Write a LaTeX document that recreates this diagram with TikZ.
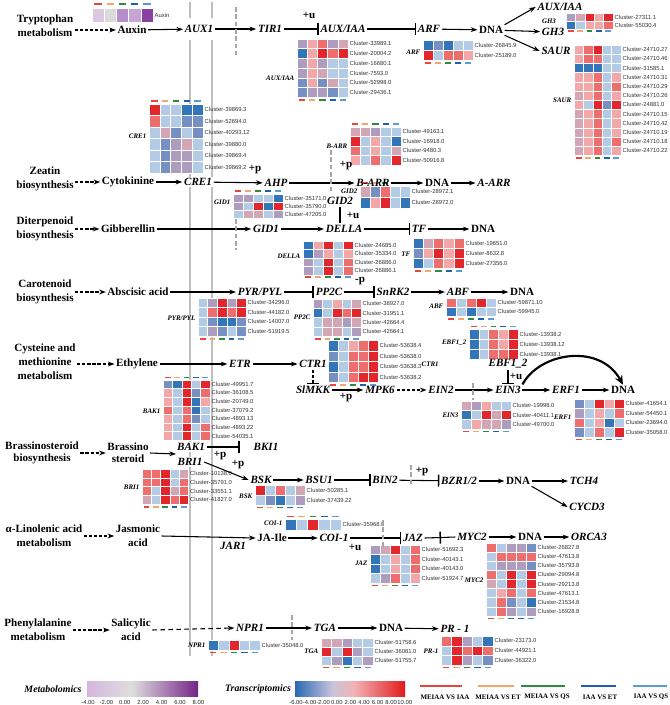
\documentclass[tikz,border=0pt]{standalone}
\usepackage{fontspec}
\setmainfont{Liberation Serif}
\setsansfont{Liberation Sans}
\usetikzlibrary{arrows.meta}
\definecolor{hR}{HTML}{E3262B}
\definecolor{hr}{HTML}{EE6E6E}
\definecolor{hp}{HTML}{F2A8A8}
\definecolor{hg}{HTML}{D3A6B6}
\definecolor{hm}{HTML}{AE9DBF}
\definecolor{hb}{HTML}{B4CBE6}
\definecolor{hs}{HTML}{7690C3}
\definecolor{hB}{HTML}{3375B9}
\definecolor{pA}{HTML}{DCC7E3}
\definecolor{pG}{HTML}{DADADA}
\definecolor{pM}{HTML}{B68EC9}
\definecolor{pL}{HTML}{C6A5D4}
\definecolor{pD}{HTML}{8B3FA3}
\definecolor{mkR}{HTML}{E8453C}
\definecolor{mkO}{HTML}{F6A66A}
\definecolor{mkG}{HTML}{2E8B3E}
\definecolor{mkB}{HTML}{1F5FB0}
\definecolor{mkL}{HTML}{5B9BD5}
\definecolor{mtL}{HTML}{D5B5DE}
\definecolor{mtM}{HTML}{DEDEDE}
\definecolor{mtR}{HTML}{742487}
\definecolor{tcL}{HTML}{2A69B4}
\definecolor{tcA}{HTML}{C9C4DC}
\definecolor{tcM}{HTML}{F2B1B4}
\definecolor{tcR}{HTML}{E31A1C}
\pgfdeclarehorizontalshading{mtsh}{100bp}{color(0bp)=(mtL); color(25bp)=(mtL); color(45bp)=(mtM); color(75bp)=(mtR); color(100bp)=(mtR)}
\pgfdeclarehorizontalshading{tcsh}{100bp}{color(0bp)=(tcL); color(25bp)=(tcL); color(42bp)=(tcA); color(52bp)=(tcM); color(75bp)=(tcR); color(100bp)=(tcR)}
\tikzset{
  lab/.style={font=\bfseries\fontsize{8.3}{10.5}\selectfont, align=center, inner sep=1pt},
  gn/.style={font=\bfseries\itshape\fontsize{8.3}{9.5}\selectfont, inner sep=1.2pt},
  sm/.style={font=\bfseries\itshape\fontsize{5.2}{6}\selectfont, inner sep=0.3pt},
  cl/.style={font=\sffamily\fontsize{4.4}{5}\selectfont, text=black!80, inner sep=0.2pt, anchor=west},
  tk/.style={font=\sffamily\fontsize{4.4}{5}\selectfont, text=black!85, inner sep=0pt},
  lg/.style={font=\bfseries\fontsize{5.2}{6}\selectfont, inner sep=0pt},
  pl/.style={font=\bfseries\fontsize{8.3}{9}\selectfont, inner sep=0.5pt},
  ar/.style={line width=0.8pt, -{Stealth[length=5pt,width=3.6pt]}},
  da/.style={ar, dash pattern=on 2.4pt off 1.4pt},
  inh/.style={line width=0.8pt, -{Bar[width=9pt,line width=1.1pt]}},
  plainln/.style={line width=0.8pt},
  gd/.style={gray!70, line width=1.4pt, dash pattern=on 3.5pt off 2pt},
  gl/.style={black!25, line width=1.8pt}
}
\newcommand{\hmap}[7]{%
  \foreach \rr [count=\ii from 0] in {#6} {%
    \foreach \cc [count=\jj from 0] in \rr {%
      \path[fill=\cc, draw=white, line width=0.3pt] ({#2+\jj*#4},{#3+\ii*#5}) rectangle ++(#4,#5);
    }%
  }%
  \foreach \ll [count=\ii from 0] in {#7} {%
    \node[cl] (#1-\ii) at ({#2+5*#4+1.2},{#3+(\ii+0.5)*#5}) {\ll};
  }%
}
\newcommand{\hmarks}[3]{%
  \foreach \cc [count=\jj from 0] in {mkR,mkO,mkG,mkB,mkL} {%
    \path[fill=\cc] ({#1+(\jj+0.2)*#3},{#2}) rectangle ++({0.6*#3},1.8);
  }%
}
\begin{document}
\begin{tikzpicture}[x=0.75pt,y=-0.75pt]
\useasboundingbox (0,0) rectangle (669,705);
% gray vertical guide lines
\draw[gl] (190,2) -- (190,656);
\draw[gl] (212,2) -- (212,656);

% ---------- heatmaps ----------
\hmap{hAux}{92}{8}{12.2}{14}{{pA,pG,pM,pL,pD}}{Auxin}
\hmarks{92}{3.5}{12.2}
\hmap{hCre}{149}{104}{10.8}{11.5}{{hR,hb,hb,hB,hB},{hr,hb,hb,hs,hs},{hb,hg,hs,hb,hs},{hb,hs,hm,hg,hb},{hb,hs,hm,hm,hb},{hb,hs,hm,hm,hb}}{Cluster-39869.3,Cluster-52694.0,Cluster-40293.12,Cluster-39880.0,Cluster-39869.4,Cluster-39869.2}
\hmarks{149}{100.5}{10.8}
\hmap{hAux2}{297}{39}{10.2}{9.7}{{hm,hp,hr,hm,hg},{hB,hp,hR,hr,hR},{hm,hp,hm,hb,hb},{hm,hp,hg,hb,hb},{hs,hp,hs,hg,hb},{hs,hm,hm,hs,hb}}{Cluster-33989.1,Cluster-20004.2,Cluster-16680.1,Cluster-7593.0,Cluster-52998.0,Cluster-29436.1}
\hmarks{297}{99.5}{10.2}
\hmap{hArf}{423}{40}{10}{10.3}{{hB,hs,hB,hb,hb},{hR,hb,hr,hr,hp}}{Cluster-26845.9,Cluster-25189.0}
\hmarks{423}{62.5}{10}
\hmap{hGh}{566}{13}{9.4}{8}{{hm,hg,hR,hp,hR},{hB,hb,hp,hp,hr}}{Cluster-27311.1,Cluster-55030.4}
\hmarks{566}{30.5}{9.4}
\hmap{hSaur}{574}{45}{9.4}{9.2}{{hp,hr,hR,hb,hb},{hp,hr,hr,hb,hb},{hB,hB,hB,hb,hb},{hp,hp,hr,hb,hp},{hp,hp,hr,hb,hr},{hg,hp,hr,hb,hp},{hp,hb,hR,hs,hR},{hg,hp,hr,hb,hp},{hg,hp,hr,hb,hp},{hg,hp,hr,hb,hp},{hg,hp,hr,hb,hr},{hg,hp,hr,hb,hp}}{Cluster-24710.27,Cluster-24710.46,Cluster-31585.1,Cluster-24710.31,Cluster-24710.29,Cluster-24710.26,Cluster-24881.0,Cluster-24710.15,Cluster-24710.42,Cluster-24710.19,Cluster-24710.18,Cluster-24710.22}
\hmarks{574}{157}{9.4}
\hmap{hBarr}{350}{127}{10.2}{9.5}{{hg,hg,hm,hb,hb},{hR,hb,hp,hb,hB},{hr,hb,hp,hb,hg},{hp,hb,hr,hb,hR}}{Cluster-49163.1,Cluster-16918.0,Cluster-9480.3,Cluster-50916.8}
\hmarks{350}{123.5}{10.2}
\hmap{hGid1}{233}{194}{10}{8}{{hm,hm,hb,hb,hB},{hm,hb,hR,hB,hR},{hb,hg,hg,hb,hm}}{Cluster-35171.0,Cluster-35790.0,Cluster-47205.0}
\hmarks{233}{190.5}{10}
\hmap{hGid2}{360}{186}{10}{11}{{hg,hs,hr,hb,hb},{hB,hp,hR,hb,hB}}{Cluster-28972.1,Cluster-28972.0}
\hmarks{360}{182.5}{10}
\hmap{hDella}{303}{241}{10}{8.5}{{hB,hp,hR,hb,hR},{hB,hm,hp,hb,hp},{hm,hb,hR,hb,hr},{hm,hb,hR,hb,hr}}{Cluster-24685.0,Cluster-35334.0,Cluster-26886.0,Cluster-26886.1}
\hmarks{303}{276}{10}
\hmap{hTf}{413}{238}{10.2}{10}{{hB,hg,hr,hp,hr},{hs,hp,hR,hp,hR},{hB,hb,hr,hp,hR}}{Cluster-19651.0,Cluster-8632.8,Cluster-27356.0}
\hmarks{413}{270}{10.2}
\hmap{hPyr}{198}{298}{9.6}{9.5}{{hb,hm,hR,hm,hR},{hb,hr,hR,hr,hR},{hb,hs,hB,hB,hs},{hb,hm,hs,hb,hs}}{Cluster-34296.0,Cluster-44182.0,Cluster-14007.0,Cluster-51919.5}
\hmarks{198}{338}{9.6}
\hmap{hPp}{313}{299}{9.6}{9.3}{{hm,hb,hp,hb,hg},{hB,hb,hR,hr,hR},{hb,hg,hg,hm,hg},{hb,hg,hg,hb,hm}}{Cluster-38927.0,Cluster-31951.1,Cluster-42664.4,Cluster-42664.1}
\hmarks{313}{338}{9.6}
\hmap{hAbf}{446}{298}{10}{9}{{hr,hb,hr,hR,hb},{hB,hb,hB,hb,hb}}{Cluster-59871.10,Cluster-59945.0}
\hmarks{446}{318}{10}
\hmap{hEbf}{469}{329}{9.8}{10}{{hB,hb,hr,hp,hR},{hB,hb,hr,hp,hR},{hB,hb,hr,hr,hR}}{Cluster-13938.2,Cluster-13938.12,Cluster-13938.1}
\hmarks{469}{325.5}{9.8}
\hmap{hCtr}{328}{340.5}{10}{10.5}{{hB,hb,hp,hr,hR},{hs,hb,hr,hr,hR},{hB,hb,hr,hr,hR},{hs,hb,hr,hR,hR}}{Cluster-53638.4,Cluster-53638.0,Cluster-53638.3,Cluster-53638.2}
\hmarks{328}{384}{10}
\hmap{hBak}{163}{380}{9.4}{8.6}{{hs,hB,hR,hb,hR},{hp,hb,hR,hs,hr},{hp,hb,hR,hB,hp},{hr,hb,hr,hB,hb},{hp,hb,hr,hs,hb},{hp,hb,hR,hb,hr},{hp,hb,hR,hb,hr}}{Cluster-49951.7,Cluster-36108.5,Cluster-20749.0,Cluster-37079.2,Cluster-4893.13,Cluster-4893.22,Cluster-54035.1}
\hmarks{163}{376.5}{9.4}
\hmap{hEin}{461}{401}{10}{9.3}{{hg,hm,hp,hb,hb},{hB,hb,hR,hg,hR},{hb,hp,hg,hg,hm}}{Cluster-19998.0,Cluster-40411.1,Cluster-49700.0}
\hmarks{461}{430.5}{10}
\hmap{hErf}{574}{399}{10}{9.5}{{hs,hb,hR,hp,hR},{hm,hb,hp,hb,hr},{hr,hb,hp,hB,hb},{hs,hb,hr,hb,hR}}{Cluster-41654.1,Cluster-54450.1,Cluster-23694.0,Cluster-35058.0}
\hmarks{574}{438.5}{10}
\hmap{hBri}{142}{469}{9.3}{8.8}{{hr,hr,hR,hb,hg},{hr,hr,hR,hb,hr},{hr,hb,hR,hg,hr},{hg,hb,hR,hr,hR}}{Cluster-10138.0,Cluster-35791.0,Cluster-33551.1,Cluster-41827.0}
\hmarks{142}{506}{9.3}
\hmap{hBsk}{255}{485}{10}{10}{{hR,hb,hr,hb,hg},{hb,hs,hB,hb,hm}}{Cluster-50285.1,Cluster-37439.22}
\hmarks{255}{506.5}{10}
\hmap{hCoi}{285}{519}{11.2}{11}{{hB,hb,hR,hb,hb}}{Cluster-35968.0}
\hmarks{285}{515.5}{11.2}
\hmap{hJaz}{370}{545}{10}{9.5}{{hm,hg,hR,hb,hr},{hB,hb,hp,hb,hr},{hB,hb,hp,hb,hr},{hb,hm,hr,hb,hp}}{Cluster-51692.3,Cluster-40143.1,Cluster-40143.0,Cluster-51924.7}
\hmarks{370}{584.5}{10}
\hmap{hMyc}{486}{543}{10}{9.1}{{hr,hb,hm,hm,hs},{hb,hr,hr,hr,hr},{hb,hm,hm,hm,hs},{hr,hb,hR,hb,hR},{hg,hb,hR,hb,hR},{hb,hp,hr,hb,hr},{hb,hr,hs,hb,hB},{hb,hr,hm,hb,hm}}{Cluster-26827.8,Cluster-47613.8,Cluster-35793.8,Cluster-29094.8,Cluster-29213.8,Cluster-47613.1,Cluster-21534.8,Cluster-16928.8}
\hmarks{486}{617.5}{10}
\hmap{hNpr}{208}{640}{10.4}{10}{{hB,hb,hR,hb,hb}}{Cluster-35048.0}
\hmarks{208}{651.5}{10.4}
\hmap{hTga}{321}{638}{10.4}{9}{{hg,hg,hm,hb,hb},{hR,hb,hR,hm,hb},{hb,hm,hB,hb,hm}}{Cluster-51758.6,Cluster-36081.0,Cluster-51755.7}
\hmarks{321}{666.5}{10.4}
\hmap{hPr}{441}{636}{10.4}{9.7}{{hr,hR,hm,hb,hB},{hb,hR,hr,hR,hr},{hb,hR,hm,hb,hs}}{Cluster-23173.0,Cluster-44921.1,Cluster-36322.0}
\hmarks{441}{666.5}{10.4}

% small heatmap labels
\node[sm, anchor=east] (sCre) at (147,136) {CRE1};
\node[sm, anchor=east] (sAux) at (295,78) {AUX/IAA};
\node[sm, anchor=east] (sArf) at (421,52) {ARF};
\node[sm] (sGh) at (549,21) {GH3};
\node[sm, anchor=east] (sSaur) at (572,100) {SAUR};
\node[sm, anchor=east] (sBarr) at (348,146) {B-ARR};
\node[sm, anchor=east] (sGid1) at (231,202) {GID1};
\node[sm, anchor=east] (sGid2) at (358,191) {GID2};
\node[sm, anchor=east] (sDella) at (301,256) {DELLA};
\node[sm, anchor=east] (sTf) at (411,254) {TF};
\node[sm, anchor=east] (sPyr) at (196,318) {PYR/PYL};
\node[sm, anchor=east] (sPp) at (311,317) {PP2C};
\node[sm, anchor=east] (sAbf) at (444,306) {ABF};
\node[sm, anchor=east] (sEbf) at (467,343) {EBF1\_2};
\node[sm, anchor=west] (sCtr) at (421,364) {CTR1};
\node[sm, anchor=east] (sBak) at (161,411) {BAK1};
\node[sm, anchor=east] (sEin) at (459,415) {EIN3};
\node[sm, anchor=east] (sErf) at (572,417) {ERF1};
\node[sm, anchor=east] (sBri) at (140,487) {BRI1};
\node[sm, anchor=east] (sBsk) at (253,496) {BSK};
\node[sm, anchor=east] (sCoi) at (283,523) {COI-1};
\node[sm, anchor=east] (sJaz) at (368,563) {JAZ};
\node[sm, anchor=east] (sMyc) at (484,580) {MYC2};
\node[sm, anchor=east] (sNpr) at (206,645) {NPR1};
\node[sm, anchor=east] (sTga) at (319,651) {TGA};
\node[sm, anchor=east] (sPr) at (439,651) {PR-1};

% ---------- Row 1 : Tryptophan ----------
\node[lab] (trp) at (45,26) {Tryptophan\\metabolism};
\node[lab] (auxin) at (132,30) {Auxin};
\node[gn, fill=white, minimum height=16pt] (aux1) at (199,29) {AUX1};
\node[gn] (tir1) at (270,29) {TIR1};
\node[gn] (auxiaa) at (343,29) {AUX/IAA};
\node[gn] (arf) at (429,29) {ARF};
\node[lab] (dna1) at (491,30) {DNA};
\node[gn] (auxiaa2) at (560,7) {AUX/IAA};
\node[gn] (gh3) at (553,32) {GH3};
\node[gn] (saur) at (556,51) {SAUR};
\draw[da] (trp.east |- auxin.west) -- (auxin.west);
\draw[ar] (auxin) -- (aux1);
\draw[ar] (aux1) -- (tir1);
\draw[inh] (tir1) -- (auxiaa);
\node[pl] (u1) at (309,15) {+u};
\draw[inh] (auxiaa) -- (arf);
\draw[ar] (arf) -- (dna1);
\draw[ar] (dna1.north east) -- (auxiaa2.west);
\draw[ar] (dna1) -- (gh3);
\draw[ar] (dna1.south east) -- (saur.west);

% ---------- Row 2 : Zeatin ----------
\node[lab] (zea) at (45,179) {Zeatin\\biosynthesis};
\node[lab] (cyto) at (128,182) {Cytokinine};
\node[gn, fill=white] (cre1) at (198,182) {CRE1};
\node[gn] (ahp) at (276,183) {AHP};
\node[gn] (barr) at (373,183) {B-ARR};
\node[lab] (dna2) at (437,183) {DNA};
\node[gn] (aarr) at (494,183) {A-ARR};
\draw[da] (zea.east |- cyto.west) -- (cyto.west);
\draw[ar] (cyto) -- (cre1);
\draw[ar] (cre1) -- (ahp);
\node[pl] (p1) at (255,170) {+p};
\draw[ar] (ahp) -- (barr);
\node[pl] (p2) at (346,166) {+p};
\draw[ar] (barr) -- (dna2);
\draw[ar] (dna2) -- (aarr);

% ---------- Row 3 : Diterpenoid ----------
\node[lab] (dit) at (45,229) {Diterpenoid\\biosynthesis};
\node[lab] (gib) at (128,229) {Gibberellin};
\node[gn] (gid1) at (266,229) {GID1};
\node[gn] (della) at (344,229) {DELLA};
\node[gn] (gid2) at (340,201) {GID2};
\node[gn] (tf) at (419,229) {TF};
\node[lab] (dna3) at (483,229) {DNA};
\draw[da] (dit.east |- gib.west) -- (gib.west);
\draw[ar] (gib) -- (gid1);
\draw[ar] (gid1) -- (della);
\draw[plainln] (gid2.south) -- (gid2.south |- della.north);
\node[pl] (u2) at (353,215) {+u};
\draw[inh] (della) -- (tf);
\draw[ar] (tf) -- (dna3);

% ---------- Row 4 : Carotenoid ----------
\node[lab] (car) at (45,292) {Carotenoid\\biosynthesis};
\node[lab] (aba) at (138,292) {Abscisic acid};
\node[gn] (pyr) at (260,292) {PYR/PYL};
\node[gn] (pp2c) at (329,292) {PP2C};
\node[gn] (snrk2) at (393,292) {SnRK2};
\node[gn] (abf) at (458,292) {ABF};
\node[lab] (dna4) at (522,292) {DNA};
\draw[da] (car.east |- aba.west) -- (aba.west);
\draw[ar] (aba) -- (pyr);
\draw[inh] (pyr) -- (pp2c);
\draw[inh] (pp2c) -- (snrk2);
\node[pl] (m1) at (360,281) {-p};
\draw[ar] (snrk2) -- (abf);
\draw[ar] (abf) -- (dna4);

% ---------- Row 5 : Cysteine ----------
\node[lab] (cys) at (45,362) {Cysteine and\\methionine\\metabolism};
\node[lab] (eth) at (137,364) {Ethylene};
\node[gn] (etr) at (240,364) {ETR};
\node[gn] (ctr1) at (313,364) {CTR1};
\node[gn] (slmkk) at (313,390) {SlMKK};
\node[gn] (mpk6) at (380,390) {MPK6};
\node[gn] (ein2) at (441,390) {EIN2};
\node[gn] (ein3) at (508,390) {EIN3};
\node[gn] (ebf) at (508,364) {EBF1\_2};
\node[gn] (erf1) at (566,390) {ERF1};
\node[lab] (dna5) at (623,390) {DNA};
\draw[da] (cys.east |- eth.west) -- (eth.west);
\draw[ar] (eth) -- (etr);
\draw[ar] (etr) -- (ctr1);
\draw[inh, dash pattern=on 2.4pt off 1.4pt] (ctr1) -- (slmkk);
\draw[ar] (slmkk) -- (mpk6);
\node[pl] (p3) at (346,398) {+p};
\draw[da] (mpk6) -- (ein2);
\draw[ar] (ein2) -- (ein3);
\draw[inh] (ebf) -- (ein3);
\node[pl] (u3) at (516,376) {+u};
\draw[ar] (ein3) -- (erf1);
\draw[ar] (erf1) -- (dna5);
\draw[line width=1.6pt, -{Stealth[length=7pt,width=6pt]}] (ein3.north east) .. controls (540,352) and (600,343) .. (dna5.north);

% ---------- Row 6 : Brassinosteroid ----------
\node[lab, font=\bfseries\fontsize{8.3}{9.2}\selectfont] (bra) at (42,453) {Brassinosteroid\\biosynthesis};
\node[lab, font=\bfseries\fontsize{8.3}{9.2}\selectfont] (brs) at (128,453) {Brassino\\steroid};
\node[gn, fill=white] (bak1) at (191,447) {BAK1};
\node[gn, fill=white] (bri1) at (190,462) {BRI1};
\node[gn] (bki1) at (266,447) {BKI1};
\node[gn] (bsk) at (261,480) {BSK};
\node[gn] (bsu1) at (319,480) {BSU1};
\node[gn] (bin2) at (385,480) {BIN2};
\node[gn] (bzr) at (459,481) {BZR1/2};
\node[lab] (dna6) at (518,481) {DNA};
\node[gn] (tch4) at (584,481) {TCH4};
\node[gn] (cycd3) at (587,507) {CYCD3};
\coordinate (bb) at (176,454);
\draw[da] (bra.east |- brs.west) -- (brs.west);
\draw[ar] (brs.east) -- (bb);
\draw[inh, shorten >=9pt] (bak1) -- (bki1);
\node[pl] (p4) at (220,456) {+p};
\draw[ar] (bri1.east) -- (bsk.west);
\node[pl] (p5) at (238,465) {+p};
\draw[ar] (bsk) -- (bsu1);
\draw[inh] (bsu1) -- (bin2);
\draw[inh] (bin2) -- (bzr);
\node[pl] (p6) at (422,472) {+p};
\draw[ar] (bzr) -- (dna6);
\draw[ar] (dna6) -- (tch4);
\draw[ar] (dna6.south east) -- (cycd3.west);

% ---------- Row 7 : alpha-Linolenic ----------
\node[lab] (lin) at (44,536) {α-Linolenic acid\\metabolism};
\node[lab] (jas) at (138,536) {Jasmonic\\acid};
\node[gn] (jar1) at (233,546) {JAR1};
\node[lab] (jaile) at (272,538) {JA-Ile};
\node[gn] (coi1) at (334,538) {COI-1};
\node[gn] (jaz) at (413,538) {JAZ};
\node[gn] (myc2) at (472,537) {MYC2};
\node[lab] (dna7) at (530,537) {DNA};
\node[gn] (orca3) at (589,537) {ORCA3};
\coordinate (jzbar) at (441,537.5);
\draw[da] (lin.east |- jas.west) -- (jas.west);
\draw[ar] (jas.east) -- (jaile.west);
\draw[ar] (jaile) -- (coi1);
\draw[inh] (coi1) -- (jaz);
\node[pl] (u4) at (355,547) {+u};
\draw[inh] (jaz.east) -- (jzbar);
\draw[plainln] (jzbar) -- (myc2.west);
\draw[ar] (myc2) -- (dna7);
\draw[ar] (dna7) -- (orca3);

% ---------- Row 8 : Phenylalanine ----------
\node[lab] (phe) at (38,630) {Phenylalanine\\metabolism};
\node[lab] (sal) at (131,630) {Salicylic\\acid};
\node[gn] (npr1) at (250,628) {NPR1};
\node[gn] (tga) at (325,628) {TGA};
\node[lab] (dna8) at (391,628) {DNA};
\node[gn] (pr1) at (455,629) {PR - 1};
\draw[da] (phe.east |- sal.west) -- (sal.west);
\draw[ar, dash pattern=on 3.5pt off 2.5pt] (sal.east) -- (npr1.west);
\draw[ar] (npr1) -- (tga);
\draw[ar] (tga) -- (dna8);
\draw[ar] (dna8) -- (pr1);

% gray dashed markers
\draw[gd] (236,7) -- (236,55);
\draw[gd] (331,150) -- (331,192);
\draw[gd] (236,219) -- (236,250);
\draw[gd] (473,383) -- (473,400);
\draw[gd] (411,465) -- (411,485);
\draw[gd] (383,520) -- (383,548);
\draw[gd] (292,615) -- (292,640);

% ---------- Legend ----------
\node[font=\bfseries\itshape\fontsize{7.4}{8}\selectfont, inner sep=0pt] (metab) at (53,689) {Metabolomics};
\shade[shading=mtsh] (87,681) rectangle (198,696);
\foreach \v [count=\k from 0] in {-4.00,-2.00,0.00,2.00,4.00,6.00,8.00} {
  \node[tk] (mt\k) at ({88+\k*18.4},702) {\v};
}
\node[font=\bfseries\itshape\fontsize{7.4}{8}\selectfont, inner sep=0pt] (trans) at (258,689) {Transcriptomics};
\shade[shading=tcsh] (295,681) rectangle (405,696);
\foreach \v [count=\k from 0] in {-6.00,-4.00,-2.00,0.00,2.00,4.00,6.00,8.00,10.00} {
  \node[tk] (tt\k) at ({296+\k*13.6},702) {\v};
}
\draw[mkR, line width=1.6pt] (420,686) -- (462,686);
\node[lg] (lg1) at (445,697) {MEIAA VS IAA};
\draw[mkO, line width=1.6pt] (478,686) -- (514,686);
\node[lg] (lg2) at (498,697) {MEIAA VS ET};
\draw[mkG, line width=1.6pt] (521,686) -- (565,686);
\node[lg] (lg3) at (547,697) {MEIAA VS QS};
\draw[mkB, line width=1.6pt] (581,686) -- (616,686);
\node[lg] (lg4) at (600,697) {IAA VS ET};
\draw[mkL, line width=1.6pt] (633,686) -- (667,686);
\node[lg] (lg5) at (651,697) {IAA VS QS};
\end{tikzpicture}
\end{document}
